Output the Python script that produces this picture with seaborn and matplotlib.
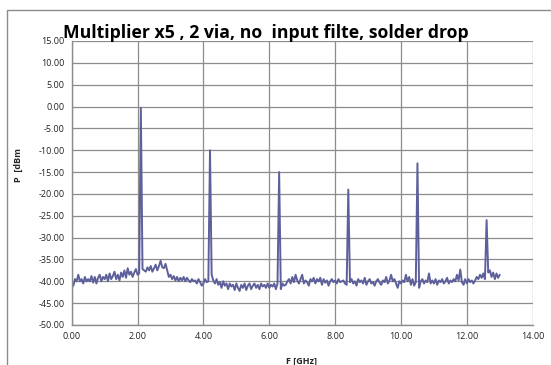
import matplotlib
matplotlib.use("Agg")
import matplotlib.pyplot as plt
import numpy as np
import pandas as pd
import seaborn as sns
from matplotlib.patches import Rectangle

freq_step = 0.05
power_dbm = [
    # 0.00 - 0.45
    -40.5, -41.0, -39.5, -40.0, -38.5, -40.0, -39.5, -40.5, -39.0, -40.0,
    # 0.50 - 0.95
    -39.5, -40.0, -38.8, -40.3, -39.0, -40.5, -39.2, -38.5, -40.0, -39.0,
    # 1.00 - 1.45
    -39.5, -38.5, -40.0, -38.2, -39.5, -38.8, -37.8, -39.5, -38.5, -39.8,
    # 1.50 - 1.95
    -38.0, -39.0, -37.5, -39.2, -37.0, -38.5, -37.8, -39.0, -38.0, -37.2,
    # 2.00 - 2.45
    -38.5, -38.2, -0.3, -37.2, -37.5, -37.8, -36.8, -37.5, -36.5, -37.8,
    # 2.50 - 2.95
    -37.0, -36.2, -37.5, -36.5, -35.3, -36.8, -37.0, -36.0, -37.5, -39.0,
    # 3.00 - 3.45
    -38.5, -39.5, -38.8, -39.8, -39.0, -40.0, -39.2, -39.8, -39.0, -40.0,
    # 3.50 - 3.95
    -39.2, -39.8, -40.2, -39.5, -40.0, -39.8, -40.5, -39.5, -40.2, -41.0,
    # 4.00 - 4.45
    -40.5, -39.5, -40.2, -40.0, -10.0, -38.5, -39.8, -40.5, -39.5, -40.8,
    # 4.50 - 4.95
    -40.2, -41.5, -40.0, -41.0, -40.5, -41.8, -40.5, -41.2, -40.8, -42.0,
    # 5.00 - 5.45
    -40.5, -41.5, -42.2, -40.8, -41.5, -40.5, -42.0, -41.0, -40.5, -41.8,
    # 5.50 - 5.95
    -41.0, -40.5, -41.5, -40.8, -41.8, -40.5, -41.2, -40.8, -41.5, -40.5,
    # 6.00 - 6.45
    -41.5, -40.8, -41.2, -40.5, -41.8, -40.5, -15.0, -41.8, -40.5, -41.0,
    # 6.50 - 6.95
    -40.8, -40.0, -39.5, -40.5, -39.0, -40.2, -38.5, -39.8, -40.5, -39.5,
    # 7.00 - 7.45
    -38.5, -40.5, -39.8, -40.2, -41.0, -39.5, -40.0, -39.2, -40.5, -39.5,
    # 7.50 - 7.95
    -40.0, -39.2, -40.8, -39.5, -40.3, -39.8, -41.0, -40.0, -39.5, -40.2,
    # 8.00 - 8.45
    -39.8, -40.5, -39.5, -40.2, -40.0, -39.8, -40.5, -40.8, -19.0, -40.2,
    # 8.50 - 8.95
    -39.5, -40.5, -40.0, -41.0, -39.5, -40.2, -39.8, -40.5, -39.2, -40.8,
    # 9.00 - 9.45
    -40.0, -39.5, -40.5, -40.2, -41.0, -40.0, -39.5, -40.3, -40.8, -39.8,
    # 9.50 - 9.95
    -40.2, -39.0, -40.5, -39.8, -38.5, -40.0, -39.5, -40.5, -41.5, -40.0,
    # 10.00 - 10.45
    -40.5, -39.8, -40.2, -38.5, -40.0, -39.0, -40.8, -39.5, -41.0, -40.2,
    # 10.50 - 10.95
    -13.0, -41.5, -40.0, -39.5, -40.5, -39.8, -40.2, -38.2, -40.5, -39.8,
    # 11.00 - 11.45
    -40.5, -39.5, -40.8, -39.8, -40.2, -39.5, -40.5, -40.0, -39.2, -40.5,
    # 11.50 - 11.95
    -39.8, -40.2, -39.5, -40.0, -38.5, -39.8, -37.3, -40.2, -40.8, -39.5,
    # 12.00 - 12.45
    -40.5, -39.5, -40.2, -39.8, -40.5, -39.8, -39.0, -39.5, -38.5, -39.2,
    # 12.50 - 12.95
    -38.2, -39.5, -26.0, -38.0, -37.5, -39.0, -38.0, -39.5, -38.2, -39.2,
    # 13.00
    -38.5,
]
freq_ghz = [round(i * freq_step, 2) for i in range(len(power_dbm))]

x_ticks = [0, 2, 4, 6, 8, 10, 12, 14]
y_ticks = list(range(-50, 20, 5))

title = "Multiplier x5 , 2 via, no  input filte, solder drop"
x_label = "F [GHz]"
y_label = "P  [dBm"

df = pd.DataFrame({"F": freq_ghz, "P": power_dbm})

sns.set_style("white")
plt.rcParams["font.family"] = ["Open Sans", "DejaVu Sans"]

W, H = 551, 365
fig = plt.figure(figsize=(W / 100, H / 100), dpi=100)
ax = fig.add_axes([71.7 / W, 1 - 325 / H, (532.7 - 71.7) / W, (325 - 41) / H])

sns.lineplot(data=df, x="F", y="P", ax=ax, color="#5d609a", linewidth=1.4)

ax.set_xlim(0, 14)
ax.set_ylim(-50, 15)
ax.set_xticks(x_ticks)
ax.set_yticks(y_ticks)
ax.set_xticklabels([f"{v:.2f}" for v in x_ticks], fontsize=6.5, color="#222222")
ax.set_yticklabels([f"{v:.2f}" for v in y_ticks], fontsize=6.5, color="#222222")
ax.grid(True, color="#8c8c8c", linewidth=0.9)
ax.set_axisbelow(True)
for side in ["left", "bottom"]:
    ax.spines[side].set_color("#8c8c8c")
    ax.spines[side].set_linewidth(1.0)
for side in ["top", "right"]:
    ax.spines[side].set_visible(False)
ax.tick_params(axis="both", direction="out", length=3, width=0.8, color="#8c8c8c", pad=2)
ax.set_xlabel("")
ax.set_ylabel("")

fig.text(266 / W, 1 - 33 / H, title, ha="center", va="center",
         fontsize=12.7, fontweight="bold", color="black")
fig.text(302 / W, 1 - 362 / H, x_label, ha="center", va="center",
         fontsize=6.5, fontweight="bold")
fig.text(18 / W, 1 - 165 / H, y_label, ha="center", va="center",
         rotation=90, fontsize=6.5, fontweight="bold")

fig.patches.append(Rectangle((7 / W, -0.1), 1.2, 1 - 10 / H + 0.1,
                             transform=fig.transFigure, fill=False,
                             edgecolor="#8c8c8c", linewidth=1.0))

fig.savefig("out.png", dpi=100)
